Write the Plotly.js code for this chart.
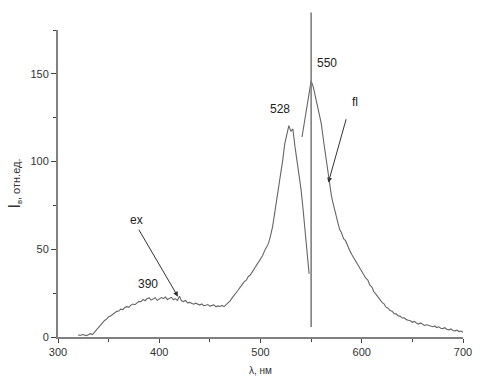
<!DOCTYPE html>
<html><head><meta charset="utf-8">
<script src="https://cdn.plot.ly/plotly-3.0.1.min.js"></script>
<style>html,body{margin:0;padding:0;background:#fff}#chart{width:480px;height:389px}</style>
</head><body><div id="chart"></div>
<script>
// Excitation spectrum (ex)
const exWavelength = [320,322,324,326,328,330,332,334,336,338,340,342,344,346,348,350,352,354,356,358,360,362,364,366,368,370,372,374,376,378,380,382,384,386,388,390,392,394,396,398,400,402,404,406,408,410,412,414,416,418,420,422,424,426,428,430,432,434,436,438,440,442,444,446,448,450,452,454,456,458,460,462,464,466,468,470,472,474,476,478,480,482,484,486,488,490,492,494,496,498,500,502,504,506,508,510,512,514,516,518,520,522,524,526,528,530,532,534,536,538,540,542,544,546,548];
const exIntensity = [1.2,0.9,1.4,1.1,0.8,1.3,1.9,1.4,2.8,4.4,5.2,7.1,8.0,9.4,10.2,11.6,12.0,12.9,13.4,14.6,14.8,15.9,15.6,16.8,17.3,16.9,18.2,18.8,18.4,19.6,20.3,20.1,21.4,20.7,21.9,22.3,21.0,21.6,22.4,20.9,21.7,22.5,21.9,22.8,21.4,22.1,22.6,21.3,21.8,20.9,23.2,20.6,20.2,20.8,19.5,19.7,19.1,18.7,19.3,18.5,18.2,18.8,17.9,18.1,18.5,17.6,17.9,18.3,17.2,17.7,17.4,18.0,17.3,18.4,19.1,20.6,22.3,23.6,25.4,26.8,28.4,29.9,31.6,32.4,34.5,35.4,37.1,39.0,40.8,42.9,44.6,46.3,49.1,51.4,53.5,57.9,63.1,70.6,77.9,85.0,93.4,101.0,110.2,116.0,120.5,117.2,118.6,108.8,101.4,93.2,84.3,73.1,61.4,47.2,36.0];
// Fluorescence spectrum (fl)
const flWavelength = [541,543,545,547,549,550,552,554,556,558,560,562,564,566,568,570,572,574,576,578,580,582,584,586,588,590,592,594,596,598,600,602,604,606,608,610,612,614,616,618,620,622,624,626,628,630,632,634,636,638,640,642,644,646,648,650,652,654,656,658,660,662,664,666,668,670,672,674,676,678,680,682,684,686,688,690,692,694,696,698,700];
const flIntensity = [114.0,121.5,127.8,135.2,142.6,146.0,142.8,137.5,131.0,126.4,121.8,113.0,104.5,94.8,87.2,80.6,75.4,70.2,66.8,61.5,59.4,56.0,54.9,51.6,49.5,47.2,45.3,43.4,40.9,39.2,37.3,35.6,33.5,32.4,29.6,28.5,25.8,24.4,22.6,21.3,19.7,18.9,17.0,16.4,15.1,14.7,13.3,13.2,12.0,11.9,10.8,10.9,9.9,9.6,9.3,8.4,8.9,8.0,7.4,8.0,7.2,6.6,7.0,6.5,6.2,5.9,6.3,5.4,5.8,5.0,4.8,5.3,4.4,4.1,4.6,3.7,3.5,3.9,3.1,3.4,2.7];
// Excitation line
const lampX = [550, 550];
const lampY = [5.7, 185];
// Axes
const xRange = [300, 700];
const yRange = [0, 175];
const xTicks = [300, 400, 500, 600, 700];
const yTicks = [0, 50, 100, 150];
// Peak labels
const peakLabels = ['390', '528', '550'];
const peakLabelX = [389, 519, 566];
const peakLabelY = [30, 130, 156];

const lineColor = '#666';
const font = {family: 'Liberation Sans, Arial, sans-serif', size: 11, color: '#333'};

const traces = [
  {x: exWavelength, y: exIntensity, mode: 'lines', line: {color: lineColor, width: 1.1}, hoverinfo: 'skip'},
  {x: flWavelength, y: flIntensity, mode: 'lines', line: {color: lineColor, width: 1.1}, hoverinfo: 'skip'}
];

const annotations = peakLabels.map((t, i) => ({
  x: peakLabelX[i], y: peakLabelY[i], xref: 'x', yref: 'y', text: t, showarrow: false,
  font: {family: font.family, size: 12, color: '#222'}
}));
annotations.push({x: 418.5, y: 23, ax: 379, ay: 62, axref: 'x', ayref: 'y', xref: 'x', yref: 'y',
  text: '', showarrow: true, arrowhead: 2, arrowsize: 1, arrowwidth: 1, arrowcolor: '#333'});
annotations.push({x: 378, y: 66.5, xref: 'x', yref: 'y', text: 'ex', showarrow: false,
  font: {family: font.family, size: 12, color: '#222'}});
annotations.push({x: 567, y: 88, ax: 585, ay: 125, axref: 'x', ayref: 'y', xref: 'x', yref: 'y',
  text: '', showarrow: true, arrowhead: 2, arrowsize: 1, arrowwidth: 1, arrowcolor: '#333'});
annotations.push({x: 593, y: 134, xref: 'x', yref: 'y', text: 'fl', showarrow: false,
  font: {family: font.family, size: 12, color: '#222'}});

const layout = {
  width: 480, height: 389,
  margin: {l: 58, r: 17, t: 30, b: 52},
  paper_bgcolor: '#fff', plot_bgcolor: '#fff',
  showlegend: false,
  font: font,
  xaxis: {
    range: xRange, tickvals: xTicks, ticks: 'outside', ticklen: 4, tickwidth: 1, tickcolor: '#444',
    showline: true, linecolor: '#808080', linewidth: 2, showgrid: false, zeroline: false,
    minor: {dtick: 50, tick0: 300, ticks: 'outside', ticklen: 3, tickcolor: '#444', showgrid: false},
    title: {text: 'λ, нм', font: {family: font.family, size: 10, color: '#333'}, standoff: 10},
    tickfont: font
  },
  yaxis: {
    range: yRange, tickvals: yTicks, ticks: 'outside', ticklen: 5, tickwidth: 1, tickcolor: '#444',
    showline: true, linecolor: '#808080', linewidth: 2, showgrid: false, zeroline: false,
    minor: {dtick: 25, tick0: 0, ticks: 'outside', ticklen: 3, tickcolor: '#444', showgrid: false},
    title: {text: '<span style="font-size:16px">I</span><sub>в</sub>, отн.ед.', font: {family: font.family, size: 11, color: '#333'}, standoff: 8},
    tickfont: font
  },
  shapes: [{
    type: 'line', xref: 'x', yref: 'paper',
    x0: lampX[0], x1: lampX[1],
    y0: (lampY[0] - yRange[0]) / (yRange[1] - yRange[0]),
    y1: (lampY[1] - yRange[0]) / (yRange[1] - yRange[0]),
    line: {color: '#777', width: 1.5}
  }],
  annotations: annotations
};
Plotly.newPlot('chart', traces, layout, {staticPlot: true, displayModeBar: false});
</script></body></html>
